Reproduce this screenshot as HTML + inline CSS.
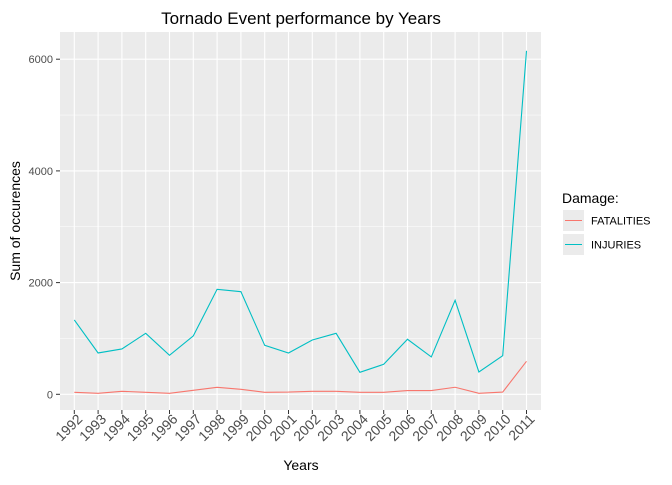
<!DOCTYPE html>
<html><head><meta charset="utf-8"><style>
body{margin:0;background:#fff;font-family:"Liberation Sans",sans-serif}
</style></head><body>
<svg id="chart" width="672" height="480" xmlns="http://www.w3.org/2000/svg" font-family="Liberation Sans, sans-serif">
<text x="301" y="24" text-anchor="middle" font-size="17" fill="#000">Tornado Event performance by Years</text>
<rect x="60" y="32" width="481" height="378" fill="#ebebeb"/>
<g id="grid"></g>
<g id="series"></g>
<g id="axes"></g>
<text x="301" y="470" text-anchor="middle" font-size="14">Years</text>
<text transform="translate(20,221) rotate(-90)" text-anchor="middle" font-size="14">Sum of occurences</text>
<g>
<text x="562" y="203" font-size="14">Damage:</text>
<rect x="563" y="210" width="21" height="21" fill="#ebebeb"/>
<line x1="565" y1="220.5" x2="582" y2="220.5" stroke="#F8766D" stroke-width="1"/>
<text x="591" y="224.5" font-size="11">FATALITIES</text>
<rect x="563" y="234" width="21" height="21" fill="#ebebeb"/>
<line x1="565" y1="244.5" x2="582" y2="244.5" stroke="#00BFC4" stroke-width="1"/>
<text x="591" y="248.5" font-size="11">INJURIES</text>
</g>
</svg>
<script>
const years=[1992,1993,1994,1995,1996,1997,1998,1999,2000,2001,2002,2003,2004,2005,2006,2007,2008,2009,2010,2011];
const fatalities=[36,18,54,36,18,72,125,90,36,40,54,54,36,36,67,67,126,18,40,591];
const injuries=[1331,740,812,1092,698,1045,1880,1838,877,740,973,1092,394,537,985,669,1683,400,692,6150];
const yTicks=[0,2000,4000,6000];
const NS="http://www.w3.org/2000/svg";
const xS=i=>74.3+i*23.8;
const yS=v=>394.3-v*111.7/2000;
function mk(t,a,p){const e=document.createElementNS(NS,t);for(const k in a)e.setAttribute(k,a[k]);p.appendChild(e);return e;}
const grid=document.getElementById('grid'),axes=document.getElementById('axes'),ser=document.getElementById('series');
[1000,3000,5000].forEach(v=>{const l=mk('line',{x1:60,x2:541,y1:yS(v),y2:yS(v),stroke:'#fff','stroke-width':0.5},grid);

});
yTicks.forEach(v=>{const y=yS(v);
const l=mk('line',{x1:60,x2:541,y1:y,y2:y,stroke:'#fff','stroke-width':1.1},grid);


mk('line',{x1:56,x2:60,y1:y,y2:y,stroke:'#333'},axes);
const t=mk('text',{x:53,y:y+4,'text-anchor':'end','font-size':11,fill:'#4d4d4d'},axes);t.textContent=v;

});
years.forEach((yr,i)=>{const x=xS(i);
const l=mk('line',{x1:x,x2:x,y1:32,y2:410,stroke:'#fff','stroke-width':1.1},grid);


mk('line',{x1:x,x2:x,y1:410,y2:414,stroke:'#333'},axes);
const t=mk('text',{transform:`translate(${x+9},${420}) rotate(-45)`,'text-anchor':'end','font-size':14,fill:'#4d4d4d'},axes);t.textContent=yr;

});
function line(vals,col,name){const p=mk('polyline',{points:vals.map((v,i)=>xS(i)+','+yS(v)).join(' '),fill:'none',stroke:col,'stroke-width':1.1},ser);

}
line(fatalities,'#F8766D','fatalities-line');
line(injuries,'#00BFC4','injuries-line');
</script>
</body></html>
